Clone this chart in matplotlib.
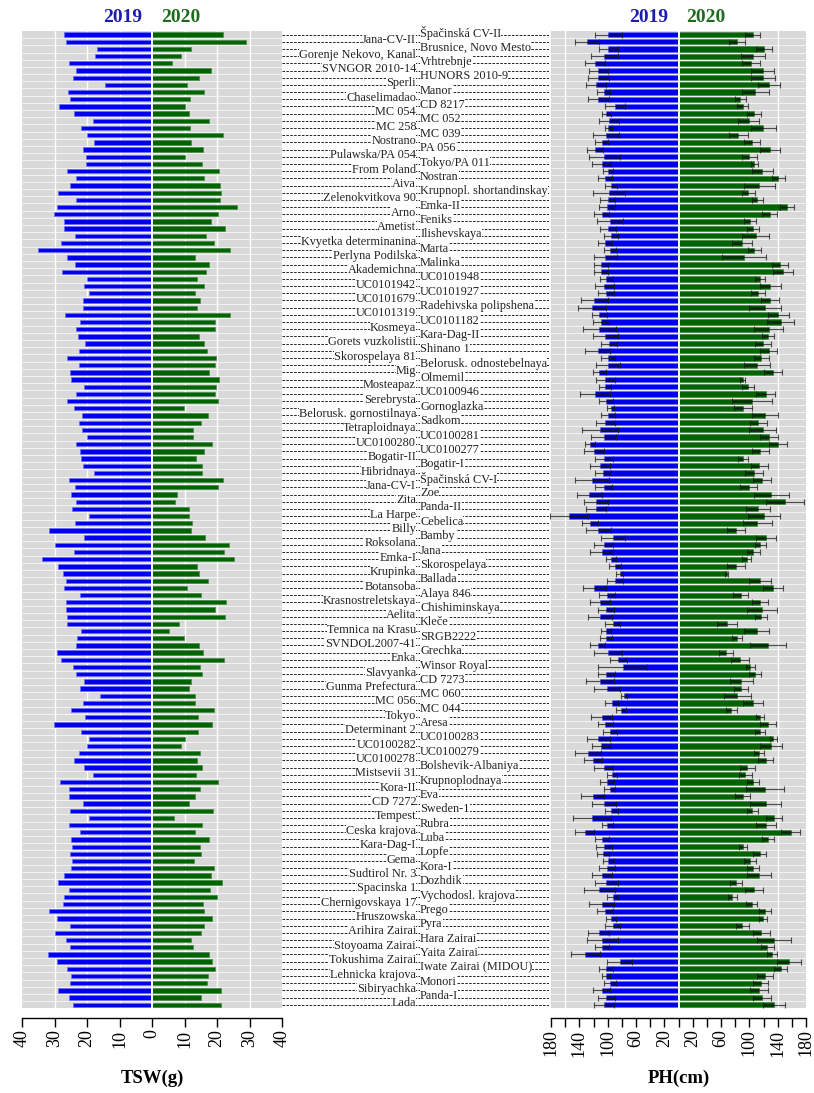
import numpy as np
import matplotlib
matplotlib.use('Agg')
import matplotlib.pyplot as plt
from matplotlib.transforms import blended_transform_factory

plt.rcParams['font.family'] = ['Liberation Serif', 'DejaVu Serif']

# genotype labels as they appear in the two label columns (right column = odd rows)
names_right = ["Špačinská CV-II", "Brusnice, Novo Mesto", "Vrhtrebnje", "HUNORS 2010-9", "Manor",
               "CD 8217", "MC 052", "MC 039", "PA 056", "Tokyo/PA 011", "Nostran",
               "Krupnopl. shortandinskay", "Emka-II", "Feniks", "Ilishevskaya", "Marta", "Malinka",
               "UC0101948", "UC0101927", "Radehivska polipshena", "UC0101182", "Kara-Dag-II",
               "Shinano 1", "Belorusk. odnostebelnaya", "Olmemil", "UC0100946", "Gornoglazka",
               "Sadkom", "UC0100281", "UC0100277", "Bogatir-I", "Špačinská CV-I", "Zoe", "Panda-II",
               "Cebelica", "Bamby", "Jana", "Skorospelaya", "Ballada", "Alaya 846", "Chishiminskaya",
               "Kleče", "SRGB2222", "Grechka", "Winsor Royal", "CD 7273", "MC 060", "MC 044", "Aresa",
               "UC0100283", "UC0100279", "Bolshevik-Albaniya", "Krupnoplodnaya", "Eva", "Sweden-1",
               "Rubra", "Luba", "Lopfe", "Kora-I", "Dozhdik", "Vychodosl. krajova", "Prego", "Pyra",
               "Hara Zairai", "Yaita Zairai", "Iwate Zairai (MIDOU)", "Monori", "Panda-I"]
names_left = ["Jana-CV-II", "Gorenje Nekovo, Kanal", "SVNGOR 2010-14", "Sperli", "Chaselimadao",
              "MC 054", "MC 258", "Nostrano", "Pulawska/PA 054", "From Poland", "Aiva",
              "Zelenokvitkova 90", "Arno", "Ametist", "Kvyetka determinanina", "Perlyna Podilska",
              "Akademichna", "UC0101942", "UC0101679", "UC0101319", "Kosmeya", "Gorets vuzkolistii",
              "Skorospelaya 81", "Mig", "Mosteapaz", "Serebrysta", "Belorusk. gornostilnaya",
              "Tetraploidnaya", "UC0100280", "Bogatir-II", "Hibridnaya", "Jana-CV-I", "Zita",
              "La Harpe", "Billy", "Roksolana", "Emka-I", "Krupinka", "Botansoba",
              "Krasnostreletskaya", "Aelita", "Temnica na Krasu", "SVNDOL2007-41", "Enka",
              "Slavyanka", "Gunma Prefectura", "MC 056", "Tokyo", "Determinant 2", "UC0100282",
              "UC0100278", "Mistsevii 31", "Kora-II", "CD 7272", "Tempest", "Ceska krajova",
              "Kara-Dag-I", "Gema", "Sudtirol Nr. 3", "Spacinska 1", "Chernigovskaya 17",
              "Hruszowska", "Arihira Zairai", "Stoyoama Zairai", "Tokushima Zairai",
              "Lehnicka krajova", "Sibiryachka", "Lada"]
genotypes = [g for pair in zip(names_right, names_left) for g in pair]

# thousand seed weight (g)
tsw_2019 = [27.0, 26.6, 16.9, 17.6, 25.6, 23.4, 24.3, 14.5, 25.8, 25.2,
            28.6, 24.0, 18.3, 21.7, 19.9, 17.8, 21.2, 20.2, 20.4, 26.3,
            23.3, 25.1, 28.8, 23.5, 29.2, 30.3, 27.0, 27.0, 23.7, 27.9,
            35.1, 26.3, 23.8, 27.8, 19.9, 20.8, 19.3, 21.3, 21.1, 26.8,
            22.1, 23.5, 22.8, 20.7, 22.5, 26.1, 22.6, 25.3, 25.0, 20.8,
            23.4, 26.2, 23.9, 21.6, 22.6, 21.5, 20.0, 23.4, 22.1, 21.8,
            21.1, 17.9, 25.4, 23.6, 24.8, 23.5, 24.6, 19.5, 23.8, 31.8,
            20.8, 29.9, 24.0, 33.8, 29.0, 27.5, 26.5, 27.0, 22.2, 26.5,
            26.5, 26.3, 26.3, 21.7, 23.1, 23.4, 29.2, 27.9, 24.3, 23.3,
            21.0, 22.3, 16.0, 21.3, 24.9, 20.5, 30.3, 21.9, 19.5, 19.9,
            22.5, 24.0, 20.9, 18.1, 28.4, 25.4, 25.6, 21.2, 25.2, 19.5,
            25.4, 22.1, 24.8, 24.5, 25.3, 24.5, 25.0, 27.0, 29.0, 25.4,
            27.0, 27.5, 31.8, 29.2, 25.2, 29.9, 26.5, 25.2, 32.1, 29.3,
            26.2, 25.0, 25.3, 28.8, 25.6, 24.3]
tsw_2020 = [21.7, 28.9, 12.0, 8.8, 6.1, 18.2, 14.5, 10.9, 16.1, 11.8,
            10.1, 11.5, 17.5, 11.6, 21.8, 12.1, 15.6, 10.3, 15.4, 20.5,
            16.0, 21.0, 21.2, 21.0, 26.3, 20.3, 18.1, 22.6, 16.7, 19.0,
            23.9, 13.2, 17.5, 16.6, 13.8, 16.1, 13.1, 14.8, 13.8, 24.1,
            19.5, 19.5, 14.5, 16.1, 16.9, 19.8, 19.3, 17.4, 20.7, 19.8,
            19.3, 20.4, 9.8, 17.3, 15.0, 12.5, 12.6, 18.6, 16.1, 13.5,
            15.4, 15.4, 21.9, 20.2, 7.6, 7.2, 11.5, 11.3, 12.4, 12.0,
            16.3, 23.6, 22.3, 25.2, 13.8, 14.6, 17.2, 10.9, 15.0, 22.9,
            19.3, 22.4, 8.3, 5.2, 9.8, 14.4, 15.8, 22.3, 14.9, 15.4,
            11.9, 11.5, 13.1, 13.1, 19.1, 14.3, 18.4, 14.2, 10.1, 9.0,
            14.7, 13.9, 15.4, 13.5, 20.2, 14.7, 13.1, 11.3, 18.8, 6.7,
            15.3, 13.1, 17.6, 14.8, 15.0, 12.8, 19.1, 18.2, 21.5, 17.8,
            20.1, 15.6, 16.1, 18.6, 16.1, 15.2, 12.0, 12.6, 17.5, 18.4,
            19.3, 17.2, 17.0, 21.1, 15.1, 21.3]

# plant height (cm), mean and standard deviation
ph_2019 = [99.1, 129.0, 99.0, 104.7, 117.8, 113.0, 113.0, 116.4, 105.6, 113.0,
           89.3, 102.3, 97.7, 99.0, 102.3, 108.4, 117.8, 104.7, 108.4, 99.0,
           103.3, 95.3, 97.7, 100.0, 101.0, 108.4, 97.2, 100.0, 95.3, 103.7,
           96.3, 103.3, 109.3, 109.3, 101.9, 104.7, 102.3, 118.7, 122.0, 111.7,
           109.3, 111.7, 103.3, 98.6, 114.0, 100.0, 100.0, 111.7, 103.3, 103.7,
           117.8, 102.3, 95.8, 100.0, 103.3, 110.7, 105.6, 124.8, 119.6, 105.6,
           110.7, 107.0, 122.4, 105.6, 125.7, 116.8, 116.8, 154.7, 124.8, 113.0,
           92.5, 105.6, 108.4, 95.3, 89.7, 83.2, 89.7, 118.7, 101.0, 110.7,
           102.3, 110.7, 93.0, 102.3, 102.3, 114.0, 100.0, 85.0, 79.0, 101.9,
           111.2, 101.0, 76.6, 94.4, 81.3, 108.4, 103.3, 96.3, 113.0, 109.3,
           128.0, 120.6, 105.6, 93.9, 101.4, 97.2, 121.0, 104.7, 94.9, 122.0,
           100.5, 132.7, 108.4, 104.7, 106.5, 99.0, 100.5, 108.4, 101.9, 111.7,
           93.0, 108.4, 103.3, 95.8, 93.0, 112.6, 107.5, 108.4, 131.3, 83.2,
           102.3, 102.8, 96.7, 108.4, 101.9, 105.6]
ph_2019_sd = [18.7, 17.0, 13.0, 19.0, 14.5, 13.5, 15.0, 14.5, 9.5, 14.5,
              14.0, 6.4, 14.3, 4.5, 18.5, 9.0, 10.7, 21.5, 13.3, 7.2,
              9.8, 8.0, 22.7, 11.0, 11.4, 10.3, 18.5, 11.2, 10.0, 10.3,
              8.4, 16.5, 9.6, 9.6, 8.9, 13.5, 11.4, 19.6, 19.4, 10.5,
              11.4, 22.9, 17.8, 11.2, 17.8, 9.8, 17.0, 9.6, 13.0, 8.4,
              21.7, 10.5, 5.0, 9.8, 13.3, 25.7, 17.3, 7.2, 13.8, 12.6,
              14.0, 11.0, 23.8, 12.0, 17.8, 16.6, 13.8, 26.6, 11.7, 17.8,
              17.0, 13.3, 16.0, 6.8, 8.6, 5.4, 11.2, 15.9, 11.7, 14.5,
              11.7, 16.8, 10.5, 7.7, 8.2, 10.5, 19.6, 11.9, 35.0, 11.7,
              20.0, 18.2, 4.4, 8.9, 7.2, 15.2, 10.7, 9.8, 16.6, 13.3,
              18.0, 12.4, 13.8, 7.5, 10.0, 7.9, 16.0, 16.8, 9.3, 26.6,
              8.2, 13.8, 9.8, 11.4, 8.2, 8.0, 11.2, 14.0, 15.9, 22.0,
              7.5, 17.3, 11.2, 7.0, 10.3, 14.5, 21.7, 9.8, 20.6, 18.2,
              10.5, 5.6, 8.4, 12.1, 12.0, 14.3]
ph_2020 = [104.7, 82.2, 120.6, 105.6, 102.3, 118.7, 119.6, 127.6, 108.4, 86.9,
           90.7, 106.5, 99.0, 119.6, 84.6, 103.3, 129.0, 100.0, 107.0, 118.2,
           141.1, 114.0, 98.6, 111.2, 153.3, 129.0, 101.0, 104.7, 108.9, 89.3,
           107.0, 93.0, 143.0, 147.7, 115.0, 129.4, 112.6, 129.4, 122.0, 141.0,
           144.0, 127.6, 126.6, 119.6, 127.6, 116.8, 111.2, 133.2, 90.7, 98.6,
           122.9, 104.2, 90.7, 122.0, 112.6, 118.7, 127.6, 140.7, 115.4, 91.6,
           114.0, 106.5, 117.8, 99.0, 130.8, 150.0, 112.6, 120.6, 111.2, 80.8,
           123.8, 115.4, 105.6, 96.3, 81.3, 68.2, 115.0, 133.6, 87.9, 115.0,
           117.8, 116.4, 68.7, 110.3, 82.7, 126.6, 67.3, 86.9, 101.4, 108.0,
           88.8, 88.8, 83.2, 105.6, 74.8, 115.0, 126.2, 115.0, 133.6, 130.4,
           114.0, 122.9, 97.2, 94.4, 104.7, 122.0, 90.7, 122.9, 104.2, 134.6,
           123.8, 158.4, 126.6, 91.6, 114.5, 100.5, 105.1, 114.0, 81.8, 106.5,
           76.2, 103.3, 122.0, 119.6, 90.2, 116.8, 134.6, 125.2, 131.8, 156.0,
           144.4, 122.0, 115.9, 114.0, 118.2, 134.6]
ph_2020_sd = [10.5, 11.0, 10.7, 17.0, 13.0, 15.7, 16.8, 15.0, 18.7, 7.7,
              8.0, 9.5, 15.0, 17.5, 13.3, 11.5, 14.0, 10.3, 4.7, 14.7,
              9.8, 22.0, 9.0, 7.5, 9.6, 10.5, 8.4, 8.4, 19.0, 14.2,
              9.3, 31.0, 11.5, 13.6, 7.7, 15.0, 10.0, 12.4, 22.0, 14.5,
              18.5, 20.5, 8.2, 11.0, 12.0, 10.7, 18.2, 12.6, 3.7, 8.6,
              13.0, 28.5, 12.4, 18.9, 11.7, 18.7, 12.4, 12.6, 12.0, 7.0,
              11.9, 12.6, 13.0, 12.0, 24.5, 26.6, 17.0, 23.0, 20.5, 12.4,
              14.5, 7.7, 9.0, 6.5, 12.8, 2.0, 15.0, 14.5, 10.3, 11.4,
              21.0, 8.0, 13.8, 17.3, 7.2, 25.2, 9.6, 13.3, 6.5, 8.2,
              16.8, 10.0, 19.0, 14.2, 8.2, 6.0, 11.2, 6.8, 4.9, 15.4,
              7.0, 11.0, 10.7, 9.3, 8.6, 27.0, 10.5, 21.7, 8.0, 11.7,
              14.0, 13.3, 8.6, 5.6, 9.3, 8.4, 8.9, 16.6, 8.4, 12.8,
              5.8, 7.7, 8.9, 6.0, 9.3, 12.0, 23.8, 9.0, 7.5, 16.8,
              9.1, 11.2, 11.0, 12.8, 12.8, 15.4]

n = len(genotypes)
rows = np.arange(n)

W, H = 814, 1093
fig = plt.figure(figsize=(W / 100, H / 100), dpi=100)


def px_axes(x0, x1, y0, y1):
    return fig.add_axes([x0 / W, 1 - y1 / H, (x1 - x0) / W, (y1 - y0) / H])


top, bot = 31, 1008
ax_l = px_axes(22, 282, top, bot)
ax_m = px_axes(282, 549, top, bot)
ax_r = px_axes(551, 806, top, bot)

blue, green = '#0000ee', '#006400'
ylim = (n - 1 + 0.45, -0.5)
label_y = (bot - 1078) / (bot - top)


def panel(ax, lim, gridx, ticks, ticklabels, title):
    ax.set_facecolor('#d9d9d9')
    ax.set_xlim(-lim, lim)
    ax.set_ylim(*ylim)
    ax.hlines(rows[:-1] + 0.5, -lim, lim, color='white', lw=0.6, alpha=0.8, zorder=0.5)
    for gx in gridx:
        ax.axvline(gx, color='white', lw=1.0, zorder=0.6)
    ax.axvline(0, color='white', lw=1.4, zorder=3)
    for s in ['top', 'left', 'right']:
        ax.spines[s].set_visible(False)
    ax.spines['bottom'].set_position(('outward', 7))
    ax.spines['bottom'].set_linewidth(1.0)
    ax.set_yticks([])
    ax.set_xticks(ticks)
    ax.set_xticklabels(ticklabels, rotation=90, fontsize=13)
    ax.tick_params(axis='x', direction='out', length=6.5, width=1.0, pad=2)
    ax.set_xlabel(title, fontsize=13.5, fontweight='bold', va='center')
    ax.xaxis.set_label_coords(0.5, label_y)


# thousand seed weight panel
ticks_l = np.arange(-40, 41, 10)
panel(ax_l, 40, [-30, -20, -10, 10, 20, 30], ticks_l, [str(abs(t)) for t in ticks_l], 'TSW(g)')
ax_l.barh(rows, -np.array(tsw_2019), height=0.6, color=blue, edgecolor='#7070ff', lw=0.5, zorder=2)
ax_l.barh(rows, tsw_2020, height=0.6, color=green, edgecolor='#4a8a4a', lw=0.5, zorder=2)

# plant height panel
ticks_r = np.arange(-180, 181, 20)
labs_r = [str(abs(t)) if abs(t) % 40 == 20 else '' for t in ticks_r]
panel(ax_r, 180, [-160, 140], ticks_r, labs_r, 'PH(cm)')
p19, s19 = np.array(ph_2019), np.array(ph_2019_sd)
p20, s20 = np.array(ph_2020), np.array(ph_2020_sd)
ax_r.barh(rows, -p19, height=0.72, color=blue, edgecolor='#7070ff', lw=0.5, zorder=2)
ax_r.barh(rows, p20, height=0.72, color=green, edgecolor='#4a8a4a', lw=0.5, zorder=2)
ax_r.hlines(rows, -p19, -p19 + s19, color='black', lw=2.4, alpha=0.4, zorder=4)
ax_r.hlines(rows, p20 - s20, p20, color='black', lw=2.4, alpha=0.4, zorder=4)
for vals, sds in [(-p19, s19), (p20, s20)]:
    eb = ax_r.errorbar(vals, rows, xerr=sds, fmt='none', ecolor='#1a1a1a', elinewidth=0.8,
                       capsize=2.2, capthick=0.8, alpha=0.75, zorder=5)
    for art in eb.lines[1] + eb.lines[2]:
        art.set_clip_on(False)

# year headers
for ax, x19, x20 in [(ax_l, -9, 9), (ax_r, -42, 39)]:
    tr = blended_transform_factory(ax.transData, ax.transAxes)
    ax.text(x19, 1.014, '2019', transform=tr, ha='center', va='center',
            fontsize=14, fontweight='bold', color='#1c1cb0')
    ax.text(x20, 1.014, '2020', transform=tr, ha='center', va='center',
            fontsize=14, fontweight='bold', color='#1e6b1e')

# genotype labels with dashed leaders
ax_m.set_xlim(0, 1)
ax_m.set_ylim(*ylim)
ax_m.axis('off')
for i, name in enumerate(genotypes):
    ax_m.plot([0, 1], [i, i], ls=(0, (2.6, 1.4)), lw=0.7, color='#222222', zorder=1)
    if i % 2 == 0:
        x, ha = 0.517, 'left'
    else:
        x, ha = 0.502, 'right'
    ax_m.text(x, i - 0.2, name, ha=ha, va='center', fontsize=8.8, color='#222222', zorder=2,
              bbox=dict(facecolor='white', edgecolor='none', pad=0.0))

fig.savefig('out.png', dpi=100)
